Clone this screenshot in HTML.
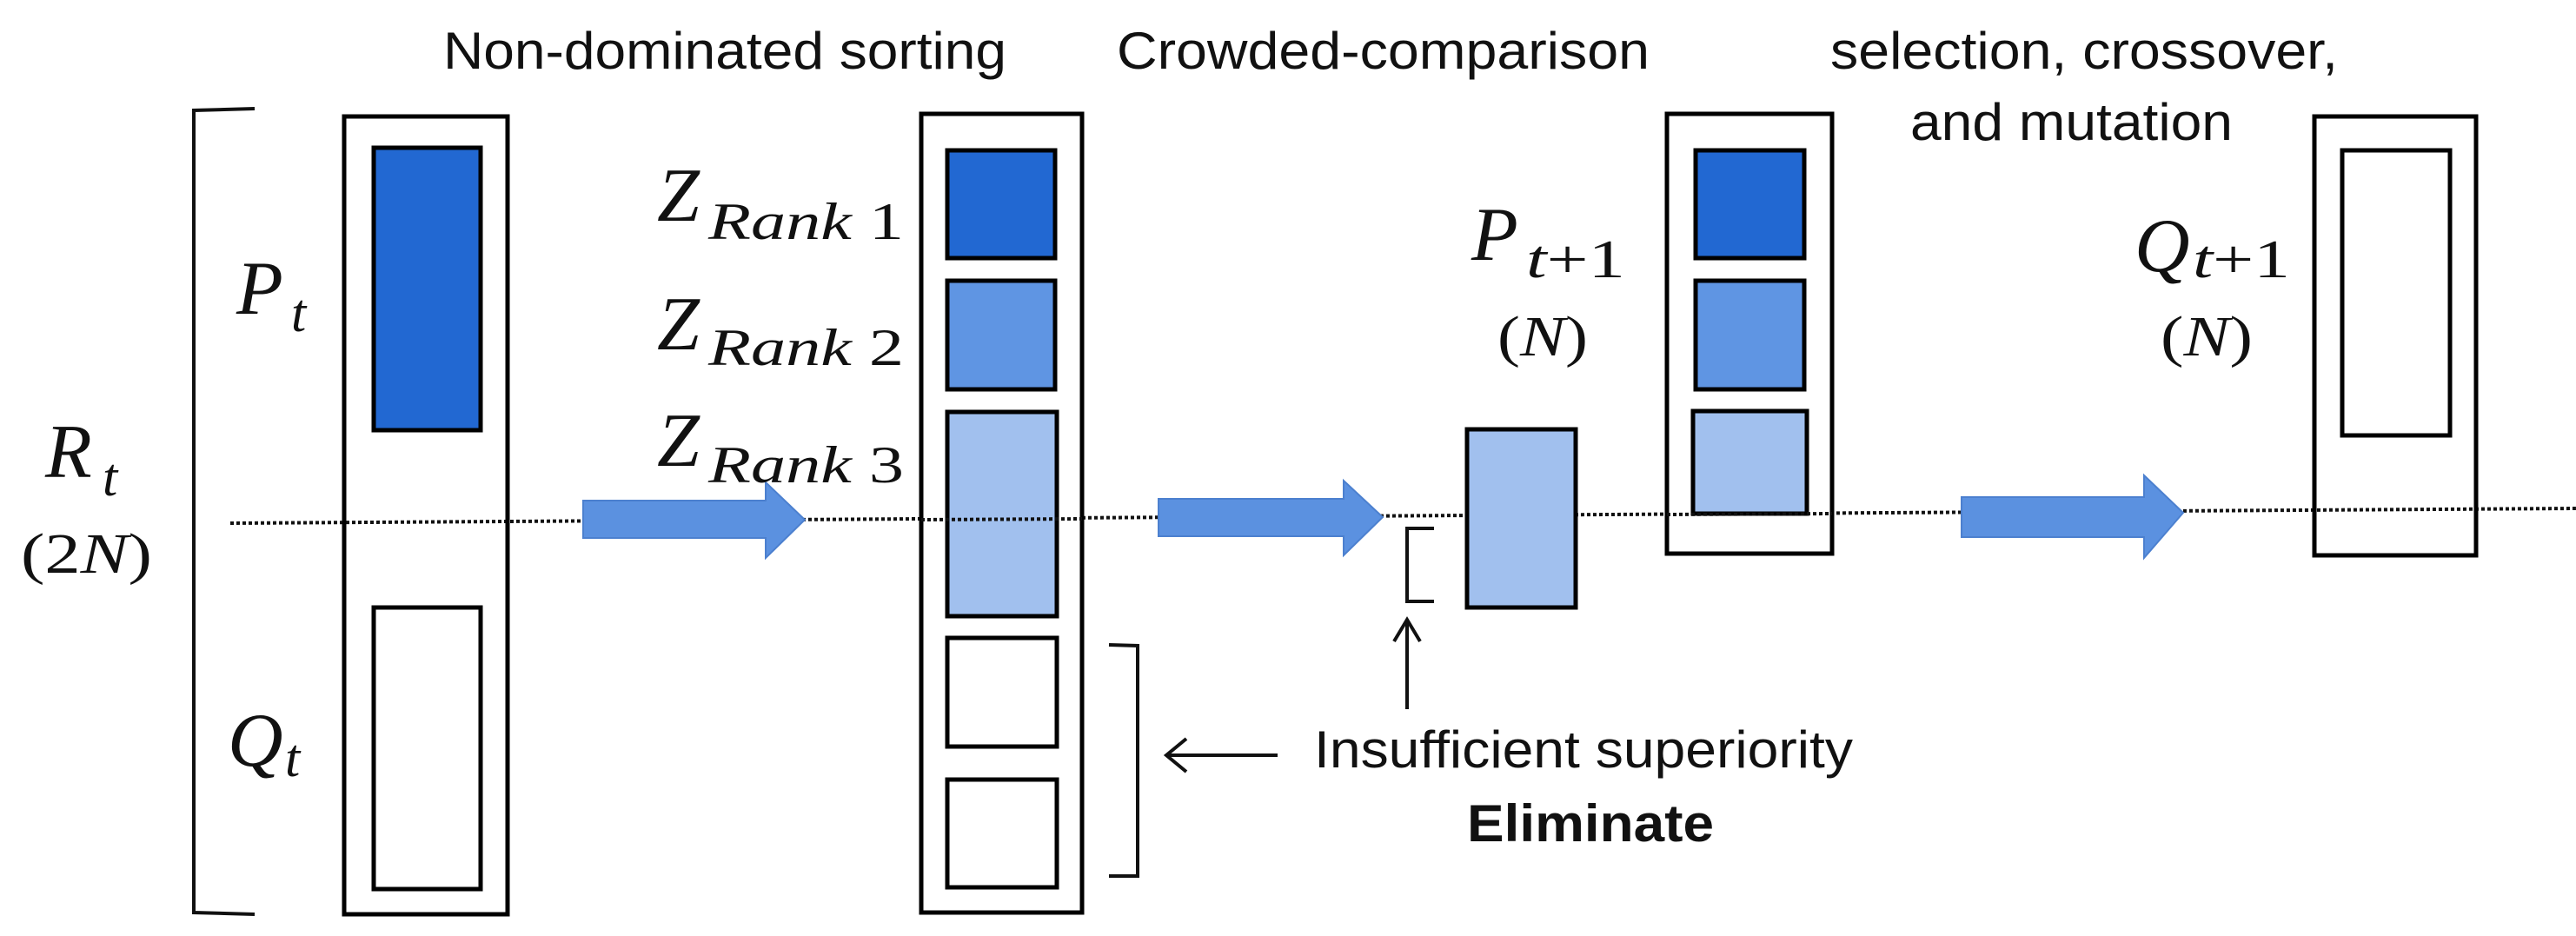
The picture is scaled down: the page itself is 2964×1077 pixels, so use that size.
<!DOCTYPE html>
<html><head><meta charset="utf-8"><style>html,body{margin:0;padding:0;background:#fff}svg{display:block}</style></head><body>
<svg width="2964" height="1077" viewBox="0 0 2964 1077" xmlns="http://www.w3.org/2000/svg">
<defs>
<marker id="ah" markerWidth="10" markerHeight="10" refX="0" refY="5" orient="auto" markerUnits="userSpaceOnUse"></marker>
</defs>
<g font-family="Liberation Sans, Arial, sans-serif" fill="#111">
<text x="510" y="79" font-size="60" textLength="648" lengthAdjust="spacingAndGlyphs">Non-dominated sorting</text>
<text x="1285" y="79" font-size="60" textLength="613" lengthAdjust="spacingAndGlyphs">Crowded-comparison</text>
<text x="2106" y="79" font-size="60" textLength="584" lengthAdjust="spacingAndGlyphs">selection, crossover,</text>
<text x="2198" y="161" font-size="60" textLength="371" lengthAdjust="spacingAndGlyphs">and mutation</text>
<text x="1512" y="883" font-size="60" textLength="620" lengthAdjust="spacingAndGlyphs">Insufficient superiority</text>
<text x="1688" y="968" font-size="60" font-weight="bold" textLength="284" lengthAdjust="spacingAndGlyphs">Eliminate</text>
</g>
<!-- dotted line -->
<line x1="265" y1="602" x2="2964" y2="585" stroke="#111" stroke-width="4" stroke-dasharray="4 3"/>
<!-- big left bracket -->
<path d="M293 125 L223 127 L223 1050 L293 1052" fill="none" stroke="#111" stroke-width="4"/>
<!-- column 1 -->
<rect x="396" y="134" width="188" height="918" fill="none" stroke="#000" stroke-width="5"/>
<rect x="430" y="170" width="123" height="325" fill="#2268d2" stroke="#000" stroke-width="5"/>
<rect x="430" y="699" width="123" height="324" fill="#fff" stroke="#000" stroke-width="5"/>
<!-- column 2 -->
<rect x="1060" y="131" width="185" height="919" fill="#fff" stroke="#000" stroke-width="5"/>
<rect x="1090" y="173" width="124" height="124" fill="#2268d2" stroke="#000" stroke-width="5"/>
<rect x="1090" y="323" width="124" height="125" fill="#5f95e3" stroke="#000" stroke-width="5"/>
<rect x="1090" y="474" width="126" height="235" fill="#a1c0ee" stroke="#000" stroke-width="5"/>
<rect x="1090" y="734" width="126" height="125" fill="#fff" stroke="#000" stroke-width="5"/>
<rect x="1090" y="897" width="126" height="124" fill="#fff" stroke="#000" stroke-width="5"/>
<line x1="1060" y1="598" x2="1245" y2="597" stroke="#111" stroke-width="4" stroke-dasharray="4 3"/>
<path d="M1276 742 L1309 743 L1309 1008 L1276 1008" fill="none" stroke="#111" stroke-width="4"/>
<path d="M1470 869 L1342 869 M1365 850 L1342 869 L1365 888" fill="none" stroke="#111" stroke-width="4"/>
<!-- arrows -->
<g fill="#5b91e0" stroke="#4c80cf" stroke-width="2">
<path d="M671 576 L881 576 L881 555 L926 598 L881 642 L881 619 L671 619 Z"/>
<path d="M1333 574 L1546 574 L1546 553 L1591 595 L1546 639 L1546 617 L1333 617 Z"/>
<path d="M2257 572 L2467 572 L2467 547 L2512 590 L2467 642 L2467 618 L2257 618 Z"/>
</g>
<!-- eliminate bracket & up arrow -->
<path d="M1650 608 L1619 608 L1619 692 L1650 692" fill="none" stroke="#111" stroke-width="4"/>
<path d="M1619 816 L1619 713 M1604 738 L1619 713 L1634 738" fill="none" stroke="#111" stroke-width="4"/>
<!-- lone box -->
<rect x="1688" y="494" width="125" height="205" fill="#a1c0ee" stroke="#000" stroke-width="5"/>
<!-- column 3 -->
<rect x="1918" y="131" width="190" height="506" fill="#fff" stroke="#000" stroke-width="5"/>
<rect x="1951" y="173" width="125" height="124" fill="#2268d2" stroke="#000" stroke-width="5"/>
<rect x="1951" y="323" width="125" height="125" fill="#5f95e3" stroke="#000" stroke-width="5"/>
<rect x="1948" y="473" width="131" height="118" fill="#a1c0ee" stroke="#000" stroke-width="5"/>
<line x1="1918" y1="592" x2="2108" y2="591" stroke="#111" stroke-width="4" stroke-dasharray="4 3"/>
<!-- column 4 -->
<rect x="2663" y="134" width="186" height="505" fill="none" stroke="#000" stroke-width="5"/>
<rect x="2695" y="173" width="124" height="328" fill="none" stroke="#000" stroke-width="5"/>
<!-- math labels -->
<g font-family="Liberation Serif, DejaVu Serif, serif" fill="#111">
<text x="52" y="549" font-size="88" font-style="italic">R</text>
<text x="118" y="570" font-size="62" font-style="italic">t</text>
<text x="24" y="659" font-size="66" textLength="151" lengthAdjust="spacingAndGlyphs">(2<tspan font-style="italic">N</tspan>)</text>
<text x="272" y="361" font-size="88" font-style="italic">P</text>
<text x="335" y="381" font-size="62" font-style="italic">t</text>
<text x="262" y="881" font-size="88" font-style="italic">Q</text>
<text x="328" y="893" font-size="62" font-style="italic">t</text>
<text x="756" y="254" font-size="88" font-style="italic">Z</text>
<text x="815" y="275" font-size="60" font-style="italic" textLength="225" lengthAdjust="spacingAndGlyphs">Rank <tspan font-style="normal">1</tspan></text>
<text x="756" y="402" font-size="88" font-style="italic">Z</text>
<text x="815" y="420" font-size="60" font-style="italic" textLength="225" lengthAdjust="spacingAndGlyphs">Rank <tspan font-style="normal">2</tspan></text>
<text x="756" y="536" font-size="88" font-style="italic">Z</text>
<text x="815" y="555" font-size="60" font-style="italic" textLength="225" lengthAdjust="spacingAndGlyphs">Rank <tspan font-style="normal">3</tspan></text>
<text x="1693" y="299" font-size="88" font-style="italic">P</text>
<text x="1756" y="319" font-size="62" textLength="114" lengthAdjust="spacingAndGlyphs"><tspan font-style="italic">t</tspan>+1</text>
<text x="1723" y="409" font-size="66" textLength="104" lengthAdjust="spacingAndGlyphs">(<tspan font-style="italic">N</tspan>)</text>
<text x="2456" y="312" font-size="88" font-style="italic">Q</text>
<text x="2523" y="319" font-size="62" textLength="112" lengthAdjust="spacingAndGlyphs"><tspan font-style="italic">t</tspan>+1</text>
<text x="2486" y="409" font-size="66" textLength="106" lengthAdjust="spacingAndGlyphs">(<tspan font-style="italic">N</tspan>)</text>
</g>
</svg>
</body></html>
